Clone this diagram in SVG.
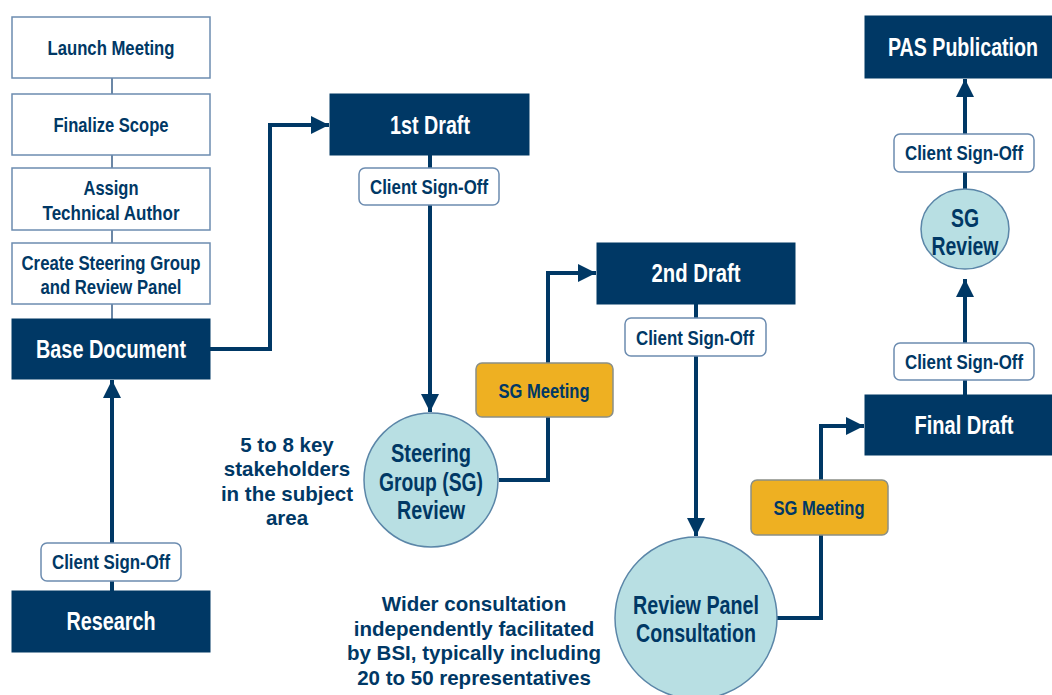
<svg xmlns="http://www.w3.org/2000/svg" width="1052" height="695" viewBox="0 0 1052 695">
<defs>
<style>
.wbox{fill:#ffffff;stroke:#6c8cb0;stroke-width:1.5}
.dbox{fill:#003865;stroke:#003865;stroke-width:1}
.sign{fill:#ffffff;stroke:#6c8cb0;stroke-width:1.5}
.gold{fill:#EEB022;stroke:#8a8f86;stroke-width:1.5}
.circ{fill:#B8DFE3;stroke:#5b86a8;stroke-width:1.5}
.t{font-family:"Liberation Sans",Arial,sans-serif;font-weight:bold;text-anchor:middle;fill:#003865}
.s20{font-size:21px}
.s24{font-size:25px}
.w{fill:#ffffff}
.note{font-family:"Liberation Sans",Arial,sans-serif;font-weight:bold;font-size:20.5px;text-anchor:middle;fill:#003865}
.thin{fill:none;stroke:#3a5f88;stroke-width:1.5}
.arr{fill:none;stroke:#003865;stroke-width:4;marker-end:url(#ah)}
</style>
<marker id="ah" viewBox="0 0 10 10" refX="10" refY="5" markerWidth="4.5" markerHeight="4.5" markerUnits="strokeWidth" orient="auto">
<path d="M0,0 L10,5 L0,10 Z" fill="#003865"/>
</marker>
</defs>
<g id="connectors">
<line class="thin" x1="112" y1="78" x2="112" y2="94"/>
<line class="thin" x1="112" y1="155" x2="112" y2="168"/>
<line class="thin" x1="112" y1="230" x2="112" y2="243"/>
<line class="thin" x1="112" y1="304" x2="112" y2="319"/>
<path class="arr" d="M210,349 H270 V125 H329"/>
<path class="arr" d="M430,155 V412"/>
<path class="arr" d="M499,480 H548 V273 H596"/>
<path class="arr" d="M696,304 V536"/>
<path class="arr" d="M777,618 H821 V426 H864"/>
<path class="arr" d="M965,395 V279"/>
<path class="arr" d="M965,189 V79"/>
<path class="arr" d="M112,591 V380"/>
</g>
<g id="launch"><rect class="wbox" x="12" y="17" width="198" height="61"/><text class="t s20" x="111" y="55" textLength="127" lengthAdjust="spacingAndGlyphs">Launch Meeting</text></g>
<g id="scope"><rect class="wbox" x="12" y="94" width="198" height="61"/><text class="t s20" x="111" y="132" textLength="115" lengthAdjust="spacingAndGlyphs">Finalize Scope</text></g>
<g id="assign"><rect class="wbox" x="12" y="168" width="198" height="62"/><text class="t s20" x="111" y="195" textLength="55" lengthAdjust="spacingAndGlyphs">Assign</text><text class="t s20" x="111" y="220" textLength="137" lengthAdjust="spacingAndGlyphs">Technical Author</text></g>
<g id="create"><rect class="wbox" x="12" y="243" width="198" height="61"/><text class="t s20" x="111" y="270" textLength="179" lengthAdjust="spacingAndGlyphs">Create Steering Group</text><text class="t s20" x="111" y="294" textLength="141" lengthAdjust="spacingAndGlyphs">and Review Panel</text></g>
<g id="base"><rect class="dbox" x="12" y="319" width="198" height="60"/><text class="t s24 w" x="111" y="358" textLength="150" lengthAdjust="spacingAndGlyphs">Base Document</text></g>
<g id="research"><rect class="dbox" x="12" y="591" width="198" height="61"/><text class="t s24 w" x="111" y="630" textLength="89" lengthAdjust="spacingAndGlyphs">Research</text></g>
<g id="signoff-research"><rect class="sign" x="41" y="543" width="140" height="38" rx="6"/><text class="t s20" x="111" y="569" textLength="118" lengthAdjust="spacingAndGlyphs">Client Sign-Off</text></g>
<g id="draft1"><rect class="dbox" x="330" y="94" width="199" height="61"/><text class="t s24 w" x="430" y="134" textLength="80" lengthAdjust="spacingAndGlyphs">1st Draft</text></g>
<g id="signoff-1"><rect class="sign" x="359" y="168" width="140" height="37" rx="6"/><text class="t s20" x="429" y="194" textLength="118" lengthAdjust="spacingAndGlyphs">Client Sign-Off</text></g>
<g id="sg-review"><circle class="circ" cx="431" cy="480" r="67"/><text class="t s24" x="431" y="462" textLength="80" lengthAdjust="spacingAndGlyphs">Steering</text><text class="t s24" x="431" y="491" textLength="104" lengthAdjust="spacingAndGlyphs">Group (SG)</text><text class="t s24" x="431" y="519" textLength="68" lengthAdjust="spacingAndGlyphs">Review</text></g>
<g id="note-sg"><text class="note" x="287" y="452">5 to 8 key</text><text class="note" x="287" y="476">stakeholders</text><text class="note" x="287" y="501">in the subject</text><text class="note" x="287" y="525">area</text></g>
<g id="sgmeeting-1"><rect class="gold" x="476" y="363" width="137" height="54" rx="6"/><text class="t s20" x="544" y="398" textLength="91" lengthAdjust="spacingAndGlyphs">SG Meeting</text></g>
<g id="draft2"><rect class="dbox" x="597" y="243" width="198" height="61"/><text class="t s24 w" x="696" y="282" textLength="89" lengthAdjust="spacingAndGlyphs">2nd Draft</text></g>
<g id="signoff-2"><rect class="sign" x="625" y="318" width="141" height="38" rx="6"/><text class="t s20" x="695" y="345" textLength="118" lengthAdjust="spacingAndGlyphs">Client Sign-Off</text></g>
<g id="review-panel"><circle class="circ" cx="696" cy="618" r="81"/><text class="t s24" x="696" y="614" textLength="126" lengthAdjust="spacingAndGlyphs">Review Panel</text><text class="t s24" x="696" y="642" textLength="120" lengthAdjust="spacingAndGlyphs">Consultation</text></g>
<g id="note-rp"><text class="note" x="474" y="611">Wider consultation</text><text class="note" x="474" y="636">independently facilitated</text><text class="note" x="474" y="660">by BSI, typically including</text><text class="note" x="474" y="685">20 to 50 representatives</text></g>
<g id="sgmeeting-2"><rect class="gold" x="751" y="480" width="137" height="55" rx="6"/><text class="t s20" x="819" y="515" textLength="91" lengthAdjust="spacingAndGlyphs">SG Meeting</text></g>
<g id="final"><rect class="dbox" x="865" y="395" width="187" height="60"/><text class="t s24 w" x="964" y="434" textLength="99" lengthAdjust="spacingAndGlyphs">Final Draft</text></g>
<g id="signoff-3"><rect class="sign" x="894" y="343" width="140" height="37" rx="6"/><text class="t s20" x="964" y="369" textLength="118" lengthAdjust="spacingAndGlyphs">Client Sign-Off</text></g>
<g id="sg-review-2"><ellipse class="circ" cx="965" cy="229" rx="44" ry="40"/><text class="t s24" x="965" y="227" textLength="28" lengthAdjust="spacingAndGlyphs">SG</text><text class="t s24" x="965" y="255" textLength="67" lengthAdjust="spacingAndGlyphs">Review</text></g>
<g id="signoff-4"><rect class="sign" x="894" y="134" width="140" height="38" rx="6"/><text class="t s20" x="964" y="160" textLength="118" lengthAdjust="spacingAndGlyphs">Client Sign-Off</text></g>
<g id="pas"><rect class="dbox" x="865" y="16" width="187" height="62"/><text class="t s24 w" x="963" y="56" textLength="150" lengthAdjust="spacingAndGlyphs">PAS Publication</text></g>
</svg>
